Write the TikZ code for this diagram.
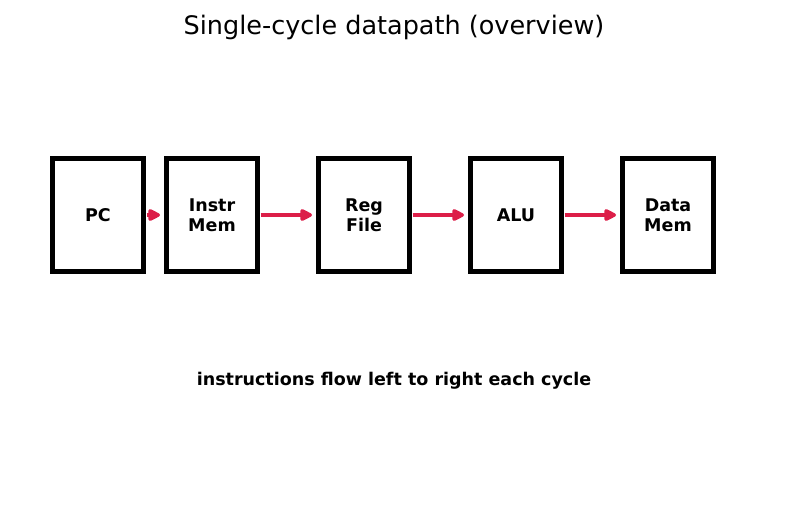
\documentclass[tikz,border=0pt]{standalone}
\usepackage{fontspec}
\setmainfont{DejaVu Sans}
\usetikzlibrary{arrows.meta}
\definecolor{flowred}{RGB}{220, 30, 72}

\begin{document}
\begin{tikzpicture}[
    x=1pt, y=-1pt,
    stage/.style={rectangle, draw=black, line width=5pt, minimum width=91pt, minimum height=113pt, align=center, fill=white, font=\fontsize{17.5}{20}\selectfont\bfseries},
    arrow/.style={-{Triangle[length=14pt, width=13pt, round]}, line width=4.5pt, draw=flowred, shorten <=0.5pt, shorten >=4pt}
]
    \useasboundingbox (0,0) rectangle (787,512);

    % title and caption
    \node[anchor=base] (title) at (394, 34) {\fontsize{25.5}{30}\selectfont Single-cycle datapath (overview)};
    \node[anchor=base, font=\fontsize{17.5}{20}\selectfont\bfseries] (caption) at (394, 385) {instructions flow left to right each cycle};

    % Pipeline stages
    \node[stage] (pc) at (98, 215) {PC};
    \node[stage] (imem) at (212, 215) {Instr\\Mem};
    \node[stage] (regs) at (364, 215) {Reg\\File};
    \node[stage] (alu) at (516, 215) {ALU};
    \node[stage] (dmem) at (668, 215) {Data\\Mem};

    % Arrows
    \draw[arrow] (pc) -- (imem);
    \draw[arrow] (imem) -- (regs);
    \draw[arrow] (regs) -- (alu);
    \draw[arrow] (alu) -- (dmem);

\end{tikzpicture}
\end{document}
